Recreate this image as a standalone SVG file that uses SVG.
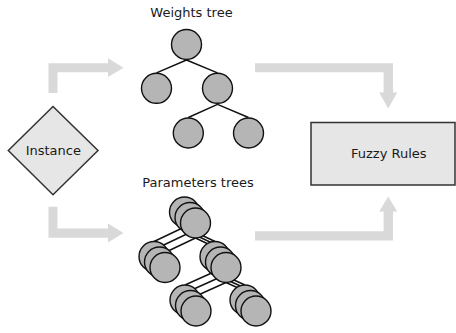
<svg xmlns="http://www.w3.org/2000/svg" width="456" height="333" viewBox="0 0 456 333">
  <style>
    .lbl { font-family: "DejaVu Sans", Verdana, sans-serif; font-size: 13px; fill: #1a1a1a; text-anchor: middle; }
    .flow { fill: #d9d9d9; stroke: none; }
    .edge { stroke: #111; stroke-width: 1.4; fill: none; }
    .ball { fill: #b5b5b5; stroke: #111; stroke-width: 1.4; }
    .box { fill: #e6e6e6; stroke: #333; stroke-width: 1.5; }
  </style>
  <defs>
    <circle id="ball" r="15" class="ball"/>
    <!-- a stack of three circles, front one at the origin -->
    <g id="stack">
      <use href="#ball" x="-11" y="-11"/>
      <use href="#ball" x="-5.5" y="-5.5"/>
      <use href="#ball" x="0" y="0"/>
    </g>
  </defs>

  <rect width="456" height="333" fill="#ffffff"/>

  <!-- flow arrows -->
  <g id="connectors">
    <path class="flow" d="M48.5,93 V63.2 H108 V58.3 L123.5,67.7 L108,77.1 V72.3 H57.5 V93 Z"/>
    <path class="flow" d="M48.5,206.7 V237.8 H108 V242.6 L123.5,233.1 L108,223.6 V228.6 H57.5 V206.7 Z"/>
    <path class="flow" d="M255,63.3 H393 V92.5 H397.2 L388.2,108.4 L379.2,92.5 H383.6 V72.2 H255 Z"/>
    <path class="flow" d="M255,240.4 H393 V211.6 H397.2 L388.2,196.6 L379.2,211.6 H383.6 V231.3 H255 Z"/>

    <!-- weights tree edges -->
    <path class="edge" d="M186.5,60 L156.5,72.8 M186.5,60 L217.5,72.8 M217.5,104.3 L188.3,117.5 M217.5,104.3 L248.5,117.5"/>

    <!-- parameters tree edges, one set per layer -->
    <g transform="translate(-11,-11)">
      <path class="edge" d="M195.5,238 L165,252.5 M195.5,238 L226,252.5 M226,282.5 L196,296 M226,282.5 L256,296"/>
    </g>
    <g transform="translate(-5.5,-5.5)">
      <path class="edge" d="M195.5,238 L165,252.5 M195.5,238 L226,252.5 M226,282.5 L196,296 M226,282.5 L256,296"/>
    </g>
    <path class="edge" d="M195.5,238 L165,252.5 M195.5,238 L226,252.5 M226,282.5 L196,296 M226,282.5 L256,296"/>
  </g>

  <g id="instance">
    <polygon class="box" stroke-width="1.2" points="53,106.5 98,150.5 53,194.8 8.3,150.5"/>
    <text class="lbl" x="53.3" y="155">Instance</text>
  </g>

  <g id="fuzzy-rules">
    <rect class="box" x="311" y="122.5" width="144" height="62.5"/>
    <text class="lbl" x="388.8" y="158.3">Fuzzy Rules</text>
  </g>

  <g id="weights-tree">
    <text class="lbl" x="191.5" y="17">Weights tree</text>
    <use href="#ball" x="186.5" y="44.5"/>
    <use href="#ball" x="156.5" y="88.3"/>
    <use href="#ball" x="217.5" y="88.3"/>
    <use href="#ball" x="188.3" y="133"/>
    <use href="#ball" x="248.5" y="133"/>
  </g>

  <g id="parameters-trees">
    <text class="lbl" x="198" y="186.7">Parameters trees</text>
    <use href="#stack" x="195.5" y="223"/>
    <use href="#stack" x="165" y="267.5"/>
    <use href="#stack" x="226" y="267.5"/>
    <use href="#stack" x="196" y="311"/>
    <use href="#stack" x="256" y="311"/>
  </g>
</svg>
